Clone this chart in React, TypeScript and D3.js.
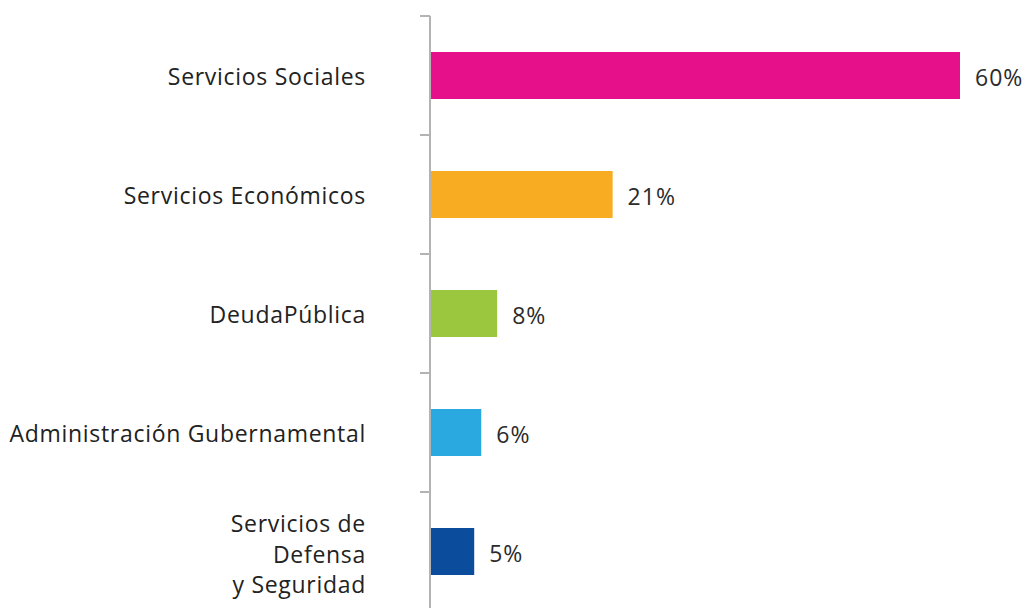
import React from "react";
import * as d3 from "d3";

const categories: string[][] = [
  ["Servicios Sociales"],
  ["Servicios Económicos"],
  ["DeudaPública"],
  ["Administración Gubernamental"],
  ["Servicios de", "Defensa", "y Seguridad"],
];
const values: number[] = [60, 20.6, 7.5, 5.7, 4.9];
const valueLabels: string[] = ["60%", "21%", "8%", "6%", "5%"];
const colors: string[] = ["#e5108a", "#f8ac21", "#9bc73f", "#2aa9e1", "#0c4c9c"];

const W = 1029;
const H = 608;
const axisX = 430;

export default function App() {
  const idx = categories.map((_, i) => i);
  const y = d3.scaleBand<number>().domain(idx).range([16, 611]).padding(0);
  const x = d3.scaleLinear().domain([0, 60]).range([axisX + 1, 960]);
  const bw = y.bandwidth();
  const barH = bw * 0.395;
  const font = "'Open Sans', sans-serif";
  return (
    <svg width={W} height={H} style={{ position: "absolute", left: 0, top: 0, background: "#fff" }}>
      <line x1={axisX} x2={axisX} y1={16} y2={H} stroke="#b3b3b3" strokeWidth={2} />
      {idx.map((i) => (
        <line key={"t" + i} x1={420} x2={axisX} y1={y(i)!} y2={y(i)!} stroke="#b3b3b3" strokeWidth={2} />
      ))}
      {idx.map((i) => {
        const yc = y(i)! + bw / 2;
        const lines = categories[i];
        const lh = 30.5;
        return (
          <g key={"g" + i}>
            <rect x={x(0)} y={yc - barH / 2} width={x(values[i]) - x(0)} height={barH} fill={colors[i]} />
            <text
              x={x(values[i]) + 15}
              y={yc + 2}
              dy="0.35em"
              fontFamily={font}
              fontSize={23}
              letterSpacing={1}
              fill="#2b2b2b"
            >
              {valueLabels[i]}
            </text>
            {lines.map((l, k) => (
              <text
                key={k}
                x={366}
                y={yc + (k - (lines.length - 1) / 2) * lh + (lines.length > 1 ? 3 : 1)}
                dy="0.35em"
                textAnchor="end"
                fontFamily={font}
                fontSize={23}
                letterSpacing={0.7}
                fill="#222"
              >
                {l}
              </text>
            ))}
          </g>
        );
      })}
    </svg>
  );
}
